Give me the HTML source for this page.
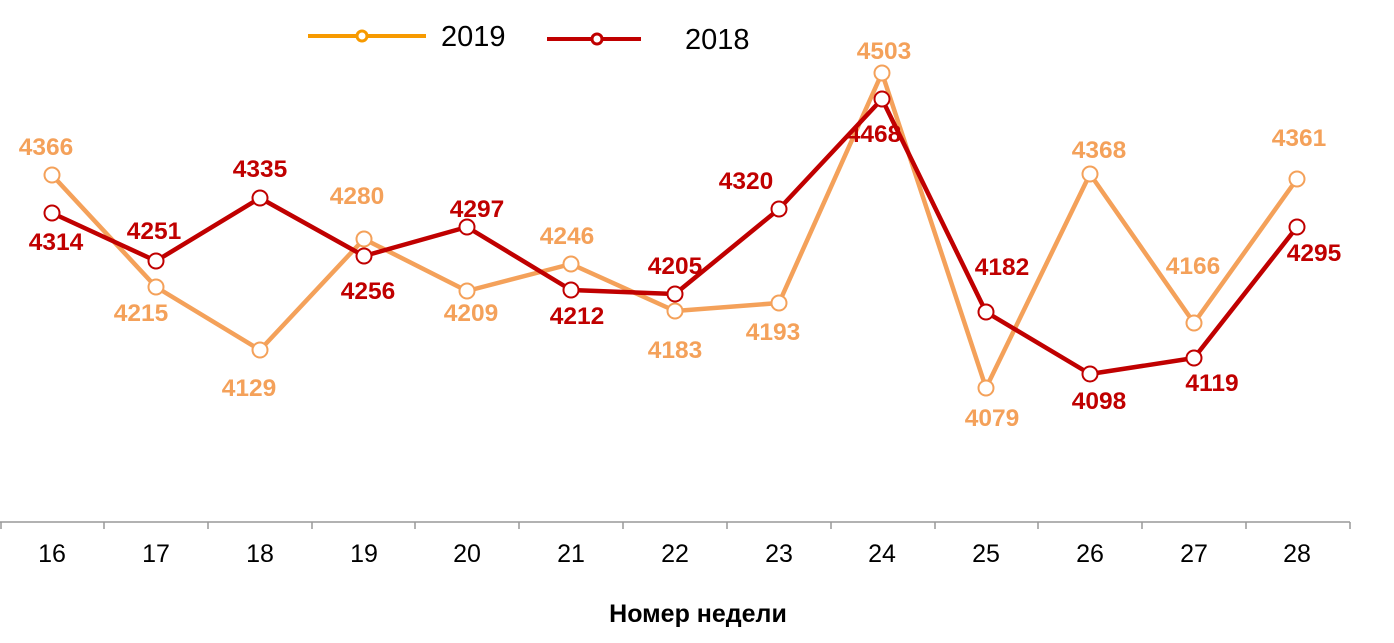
<!DOCTYPE html>
<html><head><meta charset="utf-8"><style>body{margin:0;background:#fff}svg{display:block}</style></head>
<body>
<svg width="1394" height="643" xmlns="http://www.w3.org/2000/svg" font-family="Liberation Sans, Arial, sans-serif">
<line x1="308" y1="36" x2="426" y2="36" stroke="#F79A00" stroke-width="4"/>
<circle cx="362" cy="36" r="5" fill="#fff" stroke="#F79A00" stroke-width="3"/>
<text x="441" y="46" font-size="29">2019</text>
<line x1="547" y1="39" x2="641" y2="39" stroke="#C00000" stroke-width="4"/>
<circle cx="597" cy="39" r="5" fill="#fff" stroke="#C00000" stroke-width="3"/>
<text x="685" y="49" font-size="29">2018</text>

<line x1="0" y1="522" x2="1350" y2="522" stroke="#999" stroke-width="1.5"/>
<g stroke="#999" stroke-width="1.5">
<line x1="1" y1="522" x2="1" y2="529"/><line x1="104" y1="522" x2="104" y2="529"/><line x1="208" y1="522" x2="208" y2="529"/><line x1="312" y1="522" x2="312" y2="529"/><line x1="415" y1="522" x2="415" y2="529"/><line x1="519" y1="522" x2="519" y2="529"/><line x1="623" y1="522" x2="623" y2="529"/><line x1="727" y1="522" x2="727" y2="529"/><line x1="831" y1="522" x2="831" y2="529"/><line x1="935" y1="522" x2="935" y2="529"/><line x1="1038" y1="522" x2="1038" y2="529"/><line x1="1142" y1="522" x2="1142" y2="529"/><line x1="1246" y1="522" x2="1246" y2="529"/><line x1="1350" y1="522" x2="1350" y2="529"/>
</g>
<g font-size="25" text-anchor="middle" fill="#000">
<text x="52" y="562">16</text><text x="156" y="562">17</text><text x="260" y="562">18</text><text x="364" y="562">19</text><text x="467" y="562">20</text><text x="571" y="562">21</text><text x="675" y="562">22</text><text x="779" y="562">23</text><text x="882" y="562">24</text><text x="986" y="562">25</text><text x="1090" y="562">26</text><text x="1194" y="562">27</text><text x="1297" y="562">28</text>
</g>
<text x="698" y="622" font-size="25" font-weight="bold" text-anchor="middle">Номер недели</text>

<polyline fill="none" stroke="#F4A15A" stroke-width="4.5" stroke-linejoin="round" points="52,175 156,287 260,350 364,239 467,291 571,264 675,311 779,303 882,73 986,388 1090,174 1194,323 1297,179"/>
<polyline fill="none" stroke="#C00000" stroke-width="4.5" stroke-linejoin="round" points="52,213 156,261 260,198 364,256 467,227 571,290 675,294 779,209 882,99 986,312 1090,374 1194,358 1297,227"/>
<g fill="#fff" stroke="#F4A15A" stroke-width="2">
<circle cx="52" cy="175" r="7.5"/><circle cx="156" cy="287" r="7.5"/><circle cx="260" cy="350" r="7.5"/><circle cx="364" cy="239" r="7.5"/><circle cx="467" cy="291" r="7.5"/><circle cx="571" cy="264" r="7.5"/><circle cx="675" cy="311" r="7.5"/><circle cx="779" cy="303" r="7.5"/><circle cx="882" cy="73" r="7.5"/><circle cx="986" cy="388" r="7.5"/><circle cx="1090" cy="174" r="7.5"/><circle cx="1194" cy="323" r="7.5"/><circle cx="1297" cy="179" r="7.5"/>
</g>
<g fill="#fff" stroke="#C00000" stroke-width="2">
<circle cx="52" cy="213" r="7.5"/><circle cx="156" cy="261" r="7.5"/><circle cx="260" cy="198" r="7.5"/><circle cx="364" cy="256" r="7.5"/><circle cx="467" cy="227" r="7.5"/><circle cx="571" cy="290" r="7.5"/><circle cx="675" cy="294" r="7.5"/><circle cx="779" cy="209" r="7.5"/><circle cx="882" cy="99" r="7.5"/><circle cx="986" cy="312" r="7.5"/><circle cx="1090" cy="374" r="7.5"/><circle cx="1194" cy="358" r="7.5"/><circle cx="1297" cy="227" r="7.5"/>
</g>
<g font-size="24.5" font-weight="bold" text-anchor="middle" fill="#F4A15A">
<text x="46" y="155">4366</text><text x="141" y="321">4215</text><text x="249" y="396">4129</text><text x="357" y="204">4280</text><text x="471" y="321">4209</text><text x="567" y="244">4246</text><text x="675" y="358">4183</text><text x="773" y="340">4193</text><text x="884" y="59">4503</text><text x="992" y="426">4079</text><text x="1099" y="158">4368</text><text x="1193" y="274">4166</text><text x="1299" y="146">4361</text>
</g>
<g font-size="24.5" font-weight="bold" text-anchor="middle" fill="#C00000">
<text x="56" y="250">4314</text><text x="154" y="239">4251</text><text x="260" y="177">4335</text><text x="368" y="299">4256</text><text x="477" y="217">4297</text><text x="577" y="324">4212</text><text x="675" y="274">4205</text><text x="746" y="189">4320</text><text x="874" y="142">4468</text><text x="1002" y="275">4182</text><text x="1099" y="409">4098</text><text x="1212" y="391">4119</text><text x="1314" y="261">4295</text>
</g>
</svg>
</body></html>
